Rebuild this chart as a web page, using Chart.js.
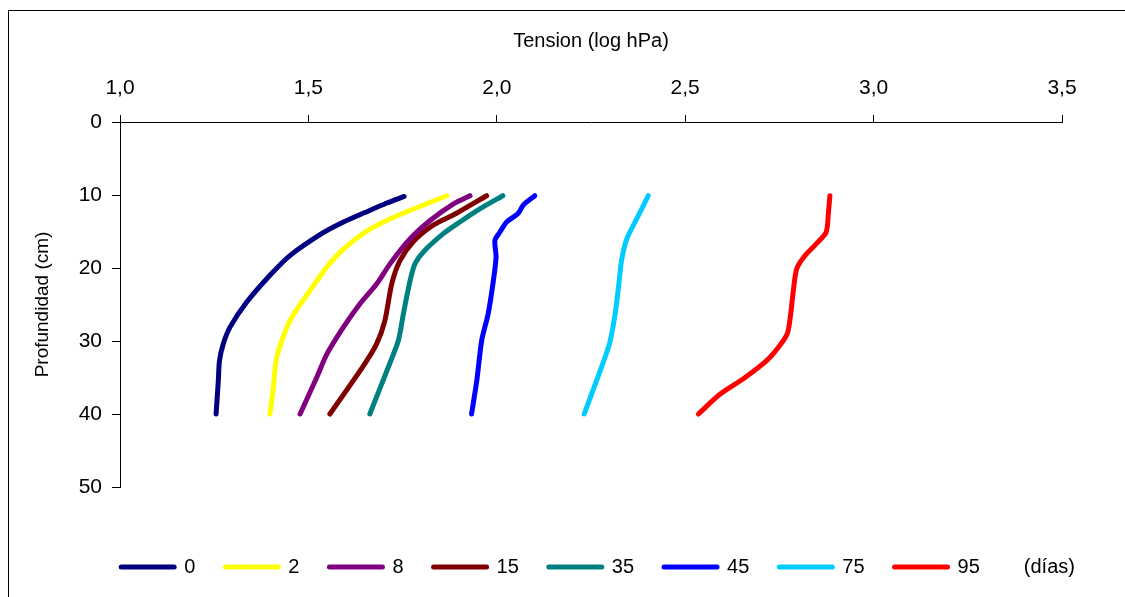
<!DOCTYPE html>
<html>
<head>
<meta charset="utf-8">
<script src="https://cdn.jsdelivr.net/npm/chart.js@4.4.1/dist/chart.umd.min.js"></script>
<style>
  html, body { margin: 0; padding: 0; background: #fff; overflow: hidden; }
  #frame {
    position: absolute; left: 8px; top: 10px;
    width: 1116px; height: 600px;
    border: 1px solid #000; background: #fff;
  }
  #frame canvas { display: block; }
</style>
</head>
<body>
<div id="frame"><canvas id="perfil" width="1116" height="586"></canvas></div>
<script>
// días desde el riego
const days = ["0", "2", "8", "15", "35", "45", "75", "95"];
const colors = ["#000080", "#FFFF00", "#800080", "#800000", "#008080", "#0000FF", "#00CCFF", "#FF0000"];

// profundidad (cm) y tensión (log hPa) por fecha
const depth0 = [10.2, 11.1, 12.4, 13.7, 15.3, 18.3, 21.0, 24.7, 28.1, 30.4, 32.7, 35.4, 40.0];
const tension0 = [1.754, 1.708, 1.650, 1.593, 1.535, 1.451, 1.398, 1.336, 1.292, 1.274, 1.264, 1.261, 1.255];

const depth2 = [10.1, 12.3, 13.7, 15.1, 17.4, 19.6, 23.1, 27.2, 32.2, 36.4, 40.0];
const tension2 = [1.867, 1.761, 1.699, 1.650, 1.593, 1.553, 1.504, 1.451, 1.416, 1.407, 1.398];

const depth8 = [10.1, 11.2, 13.5, 16.0, 19.4, 22.2, 24.9, 28.1, 31.8, 35.0, 40.0];
const tension8 = [1.929, 1.885, 1.823, 1.770, 1.717, 1.681, 1.637, 1.593, 1.549, 1.522, 1.478];

const depth15 = [10.1, 12.5, 14.1, 16.4, 19.0, 22.2, 27.2, 30.4, 33.4, 40.0];
const tension15 = [1.973, 1.893, 1.832, 1.778, 1.743, 1.721, 1.703, 1.681, 1.646, 1.557];

const depth35 = [10.1, 11.9, 13.7, 15.3, 17.8, 19.4, 21.7, 26.3, 29.9, 33.6, 40.0];
const tension35 = [2.016, 1.955, 1.902, 1.858, 1.805, 1.783, 1.770, 1.752, 1.739, 1.712, 1.663];

const depth45 = [10.1, 11.4, 12.5, 13.7, 15.1, 16.2, 18.5, 21.7, 26.3, 29.9, 35.4, 40.0];
const tension45 = [2.101, 2.070, 2.057, 2.026, 2.008, 1.995, 1.998, 1.991, 1.977, 1.960, 1.947, 1.933];

const depth75 = [10.1, 12.8, 16.0, 19.0, 22.6, 26.3, 30.4, 35.4, 40.0];
const tension75 = [2.402, 2.376, 2.345, 2.331, 2.323, 2.314, 2.299, 2.265, 2.232];

const depth95 = [10.1, 12.5, 15.1, 16.9, 18.3, 20.1, 23.1, 26.3, 29.0, 30.9, 32.7, 35.0, 37.3, 40.0];
const tension95 = [2.884, 2.880, 2.874, 2.844, 2.818, 2.796, 2.787, 2.780, 2.771, 2.747, 2.716, 2.659, 2.592, 2.535];

const xTicks = [1.0, 1.5, 2.0, 2.5, 3.0, 3.5];
const yTicks = [0, 10, 20, 30, 40, 50];

const depths = [depth0, depth2, depth8, depth15, depth35, depth45, depth75, depth95];
const tensions = [tension0, tension2, tension8, tension15, tension35, tension45, tension75, tension95];

const FONT = "'Liberation Sans', Arial, sans-serif";

const datasets = days.map((d, i) => ({
  label: d,
  data: tensions[i].map((t, k) => ({ x: t, y: depths[i][k] })),
  borderColor: colors[i],
  backgroundColor: colors[i],
  borderWidth: 5,
  borderCapStyle: "round",
  borderJoinStyle: "round",
  pointRadius: 0,
  tension: 0.25,
  showLine: true
}));

// shifts the legend row and writes the unit after the last item
const legendExtras = {
  id: "legendExtras",
  afterLayout(chart) {
    const lg = chart.legend;
    lg.left += 15;
    lg.right += 15;
  },
  afterDraw(chart) {
    const lg = chart.legend;
    const boxes = lg.legendHitBoxes;
    if (!boxes.length) return;
    const last = boxes[boxes.length - 1];
    const ctx = chart.ctx;
    ctx.save();
    ctx.font = "20px " + FONT;
    ctx.fillStyle = "#000";
    ctx.textBaseline = "middle";
    ctx.fillText("(días)", last.left + last.width + 44, last.top + last.height / 2);
    ctx.restore();
  }
};

new Chart(document.getElementById("perfil"), {
  type: "scatter",
  data: { datasets },
  options: {
    responsive: false,
    animation: false,
    layout: { padding: { left: 0, right: 63, top: 0, bottom: 10 } },
    plugins: {
      tooltip: { enabled: false },
      legend: {
        position: "bottom",
        title: {
          display: true,
          text: " ",
          color: "#000",
          font: { family: FONT, size: 10 },
          padding: { top: 28, bottom: 0 }
        },
        labels: {
          usePointStyle: true,
          pointStyleWidth: 53,
          boxHeight: 5,
          padding: 30,
          color: "#000",
          font: { family: FONT, size: 20 },
          generateLabels: (chart) => chart.data.datasets.map((ds, i) => ({
            text: ds.label,
            fontColor: "#000",
            fillStyle: ds.borderColor,
            strokeStyle: ds.borderColor,
            lineWidth: 5,
            lineCap: "round",
            pointStyle: "line",
            datasetIndex: i
          }))
        }
      }
    },
    scales: {
      x: {
        type: "linear",
        position: "top",
        min: 1,
        max: 3.5,
        afterBuildTicks: (scale) => { scale.ticks = xTicks.map(v => ({ value: v })); },
        afterFit: (scale) => { scale.height = 111; },
        ticks: {
          color: "#000",
          padding: 14,
          font: { family: FONT, size: 21 },
          callback: (v) => v.toFixed(1).replace(".", ",")
        },
        grid: { drawOnChartArea: false, drawTicks: true, tickLength: 7, color: "#000" },
        border: { display: true, color: "#000", width: 1 },
        title: {
          display: true,
          text: "Tension (log hPa)",
          color: "#000",
          font: { family: FONT, size: 20 },
          padding: { top: 18, bottom: 0 }
        }
      },
      y: {
        type: "linear",
        reverse: true,
        min: 0,
        max: 50,
        afterBuildTicks: (scale) => { scale.ticks = yTicks.map(v => ({ value: v })); },
        afterFit: (scale) => { scale.width = 111; },
        ticks: {
          color: "#000",
          padding: 10,
          font: { family: FONT, size: 21 }
        },
        grid: { drawOnChartArea: false, drawTicks: true, tickLength: 8, color: "#000" },
        border: { display: true, color: "#000", width: 1 },
        title: {
          display: true,
          text: "Profundidad (cm)",
          color: "#000",
          font: { family: FONT, size: 19 },
          padding: { top: 22, bottom: 4 }
        }
      }
    }
  },
  plugins: [legendExtras]
});
</script>
</body>
</html>
